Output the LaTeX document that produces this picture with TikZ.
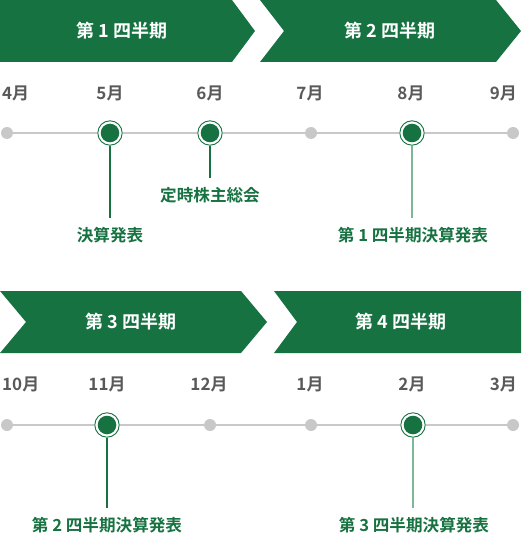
\documentclass[tikz,border=0pt]{standalone}
\usepackage{fontspec}
\setmainfont{Noto Sans CJK JP}[BoldFont={Noto Sans CJK JP Bold}]
\definecolor{qgreen}{HTML}{177241}
\definecolor{lgreen}{HTML}{7DB894}
\definecolor{mgray}{HTML}{595959}
\definecolor{dgray}{HTML}{C8C8C8}
\tikzset{
  hdrshape/.style={fill=qgreen, draw=none},
  hdrtext/.style={text=white, font=\bfseries\fontsize{18}{18}\selectfont, inner sep=0},
  month/.style={text=mgray, font=\bfseries\fontsize{17}{17}\selectfont, inner sep=0},
  evlabel/.style={text=qgreen, font=\bfseries\fontsize{16.6}{17}\selectfont, inner xsep=0, inner ysep=9.3pt},
  gdot/.style={circle, draw=qgreen, line width=0.9pt, fill=white, minimum size=24.4pt, inner sep=0,
    path picture={\fill[qgreen] (path picture bounding box.center) circle (9.3pt);}},
  pdot/.style={circle, fill=dgray, minimum size=12pt, inner sep=0},
  tline/.style={draw=dgray, line width=2pt},
  conn/.style={draw=qgreen, line width=1.3pt},
  lconn/.style={draw=lgreen, line width=1.5pt}
}
\begin{document}
\begin{tikzpicture}[x=1pt,y=-1pt]
\useasboundingbox (0,0) rectangle (521,537);
% headers
\fill[hdrshape] (0,0) -- (232,0) -- (255,31) -- (232,62) -- (0,62) -- cycle;
\fill[hdrshape] (260,0) -- (496,0) -- (521,31) -- (496,62) -- (260,62) -- (284,31) -- cycle;
\fill[hdrshape] (0,291) -- (241,291) -- (267,322) -- (241,353) -- (0,353) -- (26,322) -- cycle;
\fill[hdrshape] (274,291) -- (521,291) -- (521,353) -- (274,353) -- (297,322) -- cycle;
\node[hdrtext] (h1) at (122,31) {第 1 四半期};
\node[hdrtext] (h2) at (390,31) {第 2 四半期};
\node[hdrtext] (h3) at (131,322) {第 3 四半期};
\node[hdrtext] (h4) at (401,322) {第 4 四半期};
% top months
\node[month, anchor=west] (m4) at (2,93) {4月};
\node[month] (m5) at (110,93) {5月};
\node[month] (m6) at (210,93) {6月};
\node[month] (m7) at (310,93) {7月};
\node[month] (m8) at (411,93) {8月};
\node[month, anchor=east] (m9) at (517,93) {9月};
% top dots
\node[pdot] (a4) at (7,133) {};
\node[gdot] (a5) at (110,133) {};
\node[gdot] (a6) at (210,133) {};
\node[pdot] (a7) at (311,133) {};
\node[gdot] (a8) at (412,133) {};
\node[pdot] (a9) at (513,133) {};
\draw[tline] (a4) -- (a5) -- (a6) -- (a7) -- (a8) -- (a9);
% top events
\node[evlabel] (e5) at (110,235) {決算発表};
\node[evlabel] (e6) at (210,195) {定時株主総会};
\node[evlabel] (e8) at (413,235) {第 1 四半期決算発表};
\draw[conn] (a5) -- (e5.north -| a5);
\draw[conn] (a6) -- (e6.north -| a6);
\draw[lconn] (a8) -- (e8.north -| a8);
% bottom months
\node[month, anchor=west] (m10) at (2,384) {10月};
\node[month] (m11) at (107,384) {11月};
\node[month] (m12) at (209,384) {12月};
\node[month] (m1) at (310,384) {1月};
\node[month] (m2) at (412,384) {2月};
\node[month, anchor=east] (m3) at (517,384) {3月};
% bottom dots
\node[pdot] (b10) at (7,425) {};
\node[gdot] (b11) at (107,425) {};
\node[pdot] (b12) at (210,425) {};
\node[pdot] (b1) at (311,425) {};
\node[gdot] (b2) at (413,425) {};
\node[pdot] (b3) at (513,425) {};
\draw[tline] (b10) -- (b11) -- (b12) -- (b1) -- (b2) -- (b3);
% bottom events
\node[evlabel] (f11) at (107,525) {第 2 四半期決算発表};
\node[evlabel] (f2) at (414,525) {第 3 四半期決算発表};
\draw[conn] (b11) -- (f11.north -| b11);
\draw[lconn] (b2) -- (f2.north -| b2);
\end{tikzpicture}
\end{document}
